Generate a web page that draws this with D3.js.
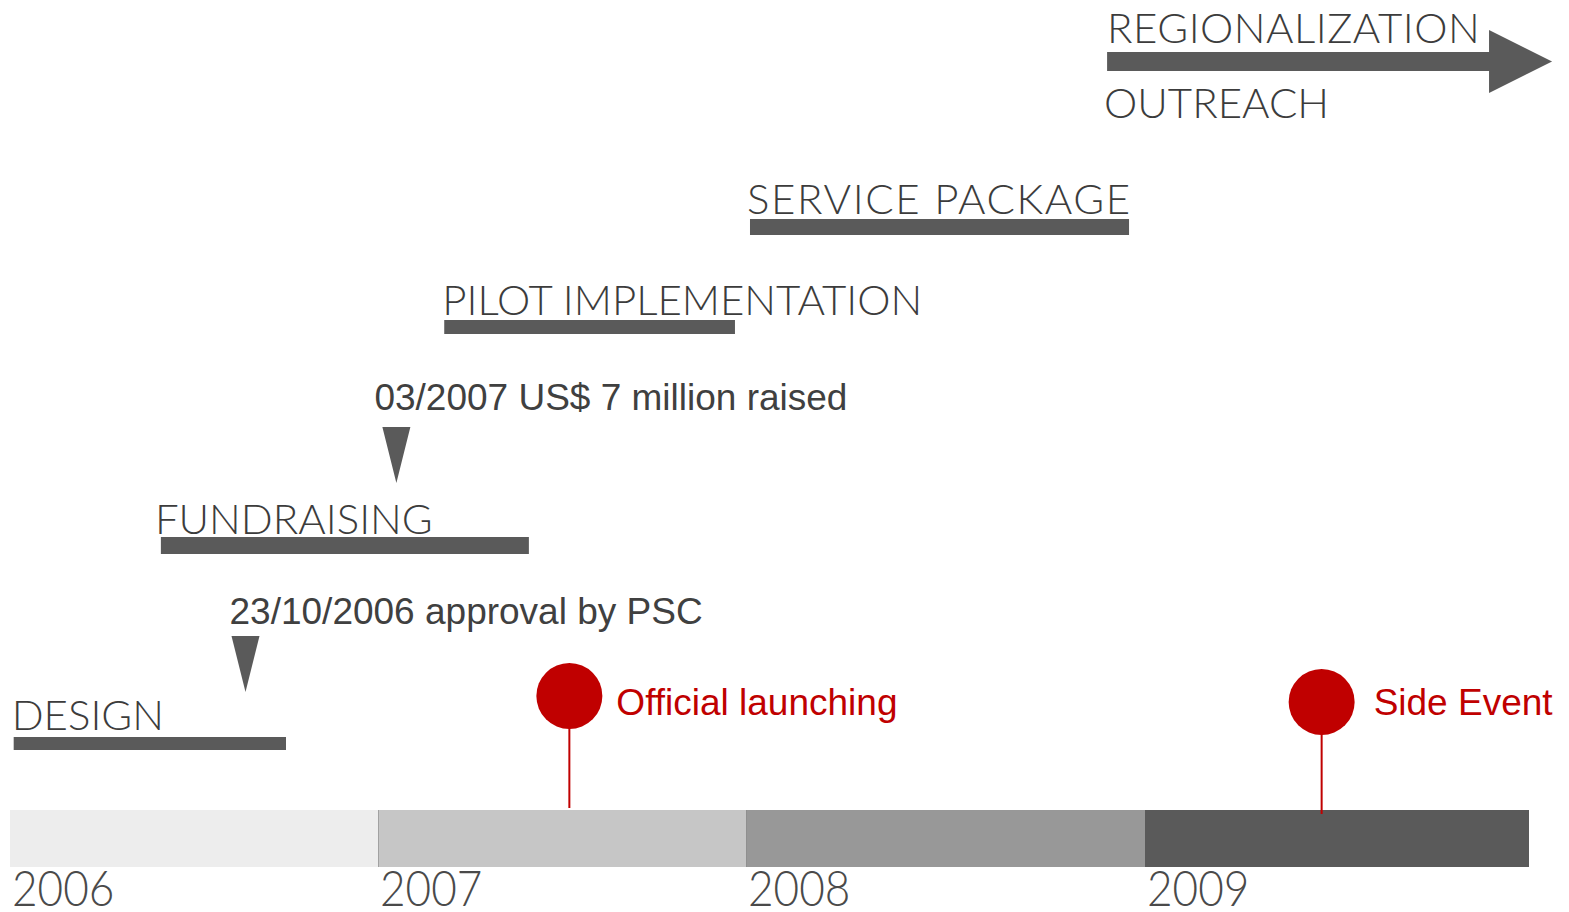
<!DOCTYPE html>
<html>
<head>
<meta charset="utf-8">
<script src="https://cdn.jsdelivr.net/npm/d3@7"></script>
<style>
  html, body { margin: 0; padding: 0; background: #fff; }
  svg { display: block; }
</style>
</head>
<body>
<svg id="chart" width="1569" height="912"></svg>
<script>
// ---------- DATA ----------
const yearBreaks = [2006, 2007, 2008, 2009, 2010];
const yearLabels = ["2006", "2007", "2008", "2009"];

const phaseNames = ["DESIGN", "FUNDRAISING", "PILOT IMPLEMENTATION", "SERVICE PACKAGE", "REGIONALIZATION"];
const phaseSubLabels = ["", "", "", "", "OUTREACH"];
const phaseStart = [2006.01, 2006.41, 2007.18, 2008.01, 2008.905];
const phaseEnd   = [2006.75, 2007.41, 2007.97, 2008.96, 2010.06];

const milestoneLabels = ["23/10/2006 approval by PSC", "03/2007 US$ 7 million raised"];
const milestoneDates  = [2006.64, 2007.05];

const eventLabels = ["Official launching", "Side Event"];
const eventDates  = [2007.52, 2009.46];

// ---------- LAYOUT / STYLE ----------
const bandTop = 810, bandBottom = 867;
const bandColors = ["#ededed", "#c6c6c6", "#989898", "#5a5a5a"];
const barColor = "#5a5a5a";
const textGray = "#3c3c3c";
const red = "#c00000";

const phaseY = [743.5, 545.5, 327, 227, 61.5];       // bar centre rows
const phaseThick = [13, 17, 14, 16, 19];
const phaseLabelDy = [-7, -3, -5, -5, -9];
const phaseLabelDx = [-2, -6, -2, -3, 0];
const phaseLetterSp = [0, 0, 0, 1.6, 0.5];
const milestoneY = [636, 427];       // triangle top
const milestoneDx = [-16, -22];
const milestoneDy = [-12, -17];
const eventCy = [696, 702];
const eventDx = [47, 52];

const x = d3.scaleLinear()
  .domain(yearBreaks)
  .range([10, 378, 746, 1145, 1529]);

const svg = d3.select("#chart");

// ---------- Year bands ----------
const bands = yearLabels.map((lab, i) => ({ lab, a: yearBreaks[i], b: yearBreaks[i + 1], c: bandColors[i] }));
svg.append("g").selectAll("rect").data(bands).join("rect")
  .attr("x", d => x(d.a))
  .attr("y", bandTop)
  .attr("width", d => x(d.b) - x(d.a))
  .attr("height", bandBottom - bandTop)
  .attr("fill", d => d.c);

svg.append("g").selectAll("line").data(bands.slice(1, 3)).join("line")
  .attr("x1", d => x(d.a) + 0.5).attr("x2", d => x(d.a) + 0.5)
  .attr("y1", bandTop).attr("y2", bandBottom)
  .attr("stroke", "#8a8a8a").attr("stroke-width", 1).attr("opacity", 0.6);

svg.append("g").selectAll("text").data(bands).join("text")
  .attr("transform", d => `translate(${x(d.a) + 2},${906}) scale(0.9,1)`)
  .attr("font-family", "Lato, 'Open Sans', sans-serif")
  .attr("font-weight", 300)
  .attr("font-size", 49)
  .attr("fill", "#4a4a4a")
  .text(d => d.lab);

// ---------- Phases ----------
const phases = phaseNames.map((name, i) => ({
  name, sub: phaseSubLabels[i], s: phaseStart[i], e: phaseEnd[i], i
}));

const pg = svg.append("g");
phases.forEach(p => {
  const yc = phaseY[p.i], th = phaseThick[p.i];
  const x0 = x(p.s), x1 = x(p.e);
  if (p.i === phases.length - 1) {
    const headLen = 63, headHalf = 31.5;
    const hx = x1 - headLen;
    pg.append("path")
      .attr("d", `M${x0},${yc - th / 2} L${hx},${yc - th / 2} L${hx},${yc - headHalf} L${x1},${yc} L${hx},${yc + headHalf} L${hx},${yc + th / 2} L${x0},${yc + th / 2} Z`)
      .attr("fill", barColor);
  } else {
    pg.append("rect")
      .attr("x", x0).attr("y", yc - th / 2)
      .attr("width", x1 - x0).attr("height", th)
      .attr("fill", barColor);
  }
  pg.append("text")
    .attr("x", x0 + phaseLabelDx[p.i])
    .attr("y", yc - th / 2 + phaseLabelDy[p.i])
    .attr("font-family", "Lato, 'Open Sans', sans-serif")
    .attr("font-weight", 300)
    .attr("font-size", 42)
    .attr("letter-spacing", phaseLetterSp[p.i])
    .attr("fill", textGray)
    .text(p.name);
  if (p.sub) {
    pg.append("text")
      .attr("x", x0 - 3)
      .attr("y", yc + th / 2 + 47)
      .attr("font-family", "Lato, 'Open Sans', sans-serif")
      .attr("font-weight", 300)
      .attr("font-size", 42)
      .attr("fill", textGray)
      .text(p.sub);
  }
});

// ---------- Milestones ----------
const milestones = milestoneLabels.map((lab, i) => ({ lab, d: milestoneDates[i], i }));
const mg = svg.append("g");
milestones.forEach(m => {
  const cx = x(m.d), top = milestoneY[m.i];
  mg.append("path")
    .attr("d", `M${cx - 14},${top} L${cx + 14},${top} L${cx},${top + 56} Z`)
    .attr("fill", barColor);
  mg.append("text")
    .attr("x", cx + milestoneDx[m.i])
    .attr("y", top + milestoneDy[m.i])
    .attr("font-family", "'Liberation Sans', Arial, sans-serif")
    .attr("font-size", 37)
    .attr("fill", "#404040")
    .text(m.lab);
});

// ---------- Events ----------
const events = eventLabels.map((lab, i) => ({ lab, d: eventDates[i], i }));
const eg = svg.append("g");
events.forEach(e => {
  const cx = x(e.d), cy = eventCy[e.i];
  eg.append("line")
    .attr("x1", cx).attr("x2", cx)
    .attr("y1", cy).attr("y2", bandTop + (e.i === 1 ? 4 : -2))
    .attr("stroke", red).attr("stroke-width", 2);
  eg.append("circle")
    .attr("cx", cx).attr("cy", cy).attr("r", 33)
    .attr("fill", red);
  eg.append("text")
    .attr("x", cx + eventDx[e.i])
    .attr("y", 715)
    .attr("font-family", "'Liberation Sans', Arial, sans-serif")
    .attr("font-size", 37)
    .attr("fill", red)
    .text(e.lab);
});
</script>
</body>
</html>
